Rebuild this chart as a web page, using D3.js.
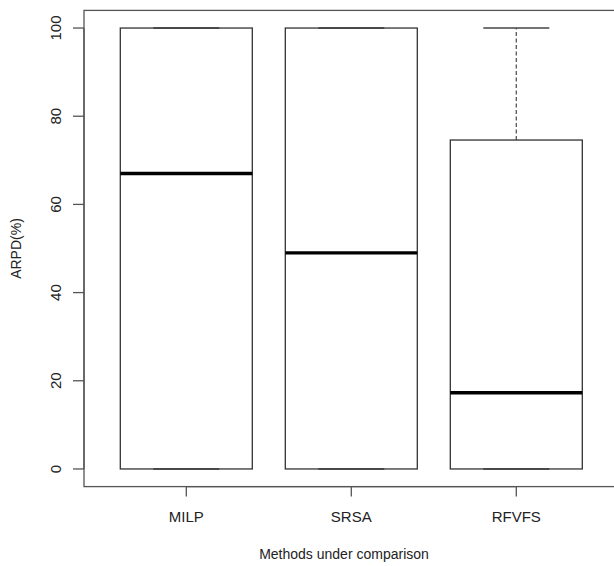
<!DOCTYPE html>
<html>
<head>
<meta charset="utf-8">
<script src="https://cdn.jsdelivr.net/npm/d3@7"></script>
<style>
  body { margin: 0; background: #fff; }
  svg { display: block; font-family: "Liberation Sans", Arial, sans-serif; }
</style>
</head>
<body>
<script>
// box stats: min, q1, median, q3, max
const methods = ["MILP", "SRSA", "RFVFS"]
const mins = [0, 0, 0]
const q1s = [0, 0, 0]
const medians = [67, 49, 17.3]
const q3s = [100, 100, 74.6]
const maxs = [100, 100, 100]
const yTicks = [0, 20, 40, 60, 80, 100]

const w = 614, h = 566
const padLeft = 84, padTop = 10.4, padBottom = 486.6
const unit = 165

const svg = d3.select("body").append("svg")
  .attr("width", w)
  .attr("height", h)

const data = methods.map((m, i) => ({
  name: m, pos: i + 1, min: mins[i], q1: q1s[i], med: medians[i], q3: q3s[i], max: maxs[i]
}))

// R style: xlim 0.5..n+0.5 expanded by 4%
const x = d3.scaleLinear()
  .domain([0.38, 3.62])
  .range([padLeft, padLeft + 3.24 * unit])
const y = d3.scaleLinear()
  .domain([-4, 104])
  .range([padBottom, padTop])

const lineCol = "#333"

// plot frame (right side falls off the canvas like the original)
svg.append("rect")
  .attr("x", x(0.38)).attr("y", y(104))
  .attr("width", x(3.62) - x(0.38)).attr("height", y(-4) - y(104))
  .attr("fill", "none").attr("stroke", "#555").attr("stroke-width", 1.3)

const g = svg.selectAll(".box")
  .data(data)
  .enter()
  .append("g")
  .attr("class", "box")

// whiskers
g.append("line")
  .attr("x1", d => x(d.pos)).attr("x2", d => x(d.pos))
  .attr("y1", d => y(d.q3)).attr("y2", d => y(d.max))
  .attr("stroke", "#555").attr("stroke-width", 1.3).attr("stroke-dasharray", "4,2.5")
g.append("line")
  .attr("x1", d => x(d.pos)).attr("x2", d => x(d.pos))
  .attr("y1", d => y(d.q1)).attr("y2", d => y(d.min))
  .attr("stroke", "#555").attr("stroke-width", 1.3).attr("stroke-dasharray", "4,2.5")

// caps
g.append("line")
  .attr("x1", d => x(d.pos - 0.2)).attr("x2", d => x(d.pos + 0.2))
  .attr("y1", d => y(d.max)).attr("y2", d => y(d.max))
  .attr("stroke", "#444").attr("stroke-width", 1.6)
g.append("line")
  .attr("x1", d => x(d.pos - 0.2)).attr("x2", d => x(d.pos + 0.2))
  .attr("y1", d => y(d.min)).attr("y2", d => y(d.min))
  .attr("stroke", "#444").attr("stroke-width", 1.6)

// boxes
g.append("rect")
  .attr("x", d => x(d.pos - 0.4))
  .attr("width", d => x(d.pos + 0.4) - x(d.pos - 0.4))
  .attr("y", d => y(d.q3))
  .attr("height", d => y(d.q1) - y(d.q3))
  .attr("fill", "none").attr("stroke", lineCol).attr("stroke-width", 1.3)

// medians
g.append("line")
  .attr("x1", d => x(d.pos - 0.4)).attr("x2", d => x(d.pos + 0.4))
  .attr("y1", d => y(d.med)).attr("y2", d => y(d.med))
  .attr("stroke", "#000").attr("stroke-width", 3.4)

// y axis
const yAxis = svg.append("g")
svg.append("line")
  .attr("x1", padLeft).attr("x2", padLeft)
  .attr("y1", y(0)).attr("y2", y(100))
  .attr("stroke", "#555").attr("stroke-width", 1.3)
yAxis.selectAll("line")
  .data(yTicks)
  .enter()
  .append("line")
  .attr("x1", padLeft - 11).attr("x2", padLeft)
  .attr("y1", d => y(d)).attr("y2", d => y(d))
  .attr("stroke", "#555").attr("stroke-width", 1.3)
yAxis.selectAll("text")
  .data(yTicks)
  .enter()
  .append("text")
  .attr("transform", d => "translate(61," + y(d) + ") rotate(-90)")
  .attr("text-anchor", "middle")
  .style("font-size", "15px")
  .style("fill", "#222")
  .text(d => d)

// x axis
svg.append("line")
  .attr("x1", x(1)).attr("x2", x(3))
  .attr("y1", padBottom).attr("y2", padBottom)
  .attr("stroke", "#555").attr("stroke-width", 1.3)
svg.selectAll(".xtick")
  .data(data)
  .enter()
  .append("line")
  .attr("class", "xtick")
  .attr("x1", d => x(d.pos)).attr("x2", d => x(d.pos))
  .attr("y1", padBottom).attr("y2", padBottom + 10)
  .attr("stroke", "#555").attr("stroke-width", 1.3)
svg.selectAll(".xlab")
  .data(data)
  .enter()
  .append("text")
  .attr("class", "xlab")
  .attr("x", d => x(d.pos))
  .attr("y", 522)
  .attr("text-anchor", "middle")
  .style("font-size", "15px")
  .style("fill", "#222")
  .text(d => d.name)

// axis titles
svg.append("text")
  .attr("x", 344).attr("y", 559)
  .attr("text-anchor", "middle")
  .style("font-size", "14px")
  .style("fill", "#222")
  .text("Methods under comparison")
svg.append("text")
  .attr("transform", "translate(21," + ((padTop + padBottom) / 2) + ") rotate(-90)")
  .attr("text-anchor", "middle")
  .style("font-size", "14px")
  .style("fill", "#222")
  .text("ARPD(%)")
</script>
</body>
</html>
